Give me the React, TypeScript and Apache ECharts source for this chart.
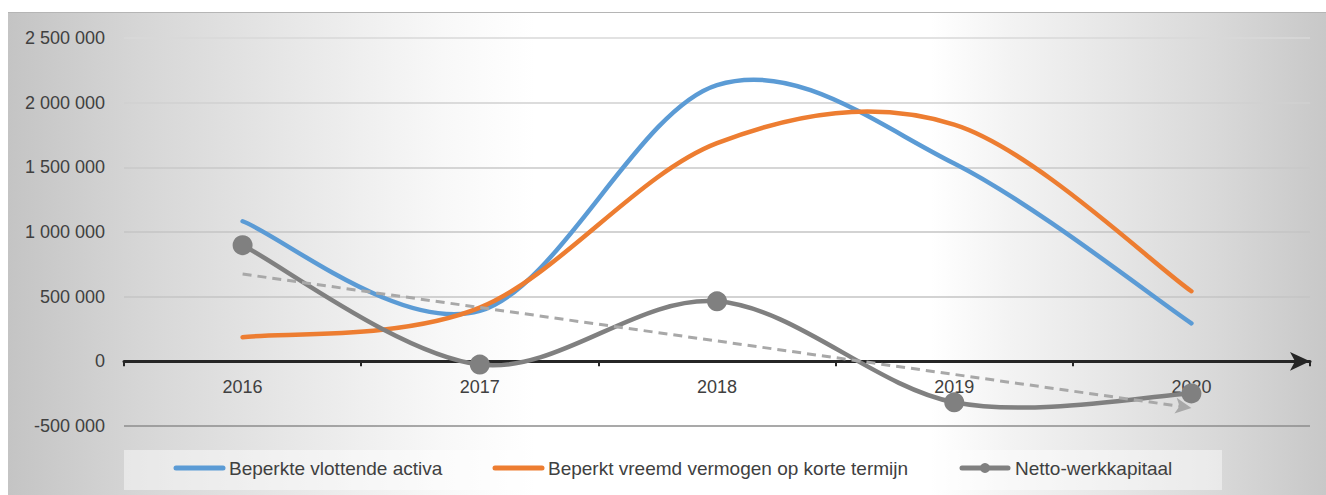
import React, { useEffect, useRef } from 'react';
import * as echarts from 'echarts';

const categories = ['2016', '2017', '2018', '2019', '2020'];
const vlottendeActiva = [1083000, 390000, 2136000, 1530000, 294000];
const vreemdVermogen = [186000, 415000, 1687000, 1830000, 542000];
const nettoWerkkapitaal = [898000, -25000, 464000, -317000, -248000];
// Linear trendline of Netto-werkkapitaal: value at 2016 and at 2020
const trendEnds = [675000, -360000];
const seriesNames = [
  'Beperkte vlottende activa',
  'Beperkt vreemd vermogen op korte termijn',
  'Netto-werkkapitaal',
];
const seriesColors = ['#5b9bd5', '#ed7d31', '#808080'];

const FONT = "'Liberation Sans', Arial, sans-serif";
const TEXT = '#404040';

const fmt = (v: number) => String(v).replace(/\B(?=(\d{3})+(?!\d))/g, ' ');

// Smooth curve through the points (Catmull-Rom, like the spreadsheet's smoothed line)
function smoothPath(pts: number[][]) {
  const n = pts.length;
  let d = `M${pts[0][0]},${pts[0][1]}`;
  for (let i = 0; i < n - 1; i++) {
    const p0 = pts[Math.max(0, i - 1)];
    const p1 = pts[i];
    const p2 = pts[i + 1];
    const p3 = pts[Math.min(n - 1, i + 2)];
    const c1x = p1[0] + (p2[0] - p0[0]) / 6;
    const c1y = p1[1] + (p2[1] - p0[1]) / 6;
    const c2x = p2[0] - (p3[0] - p1[0]) / 6;
    const c2y = p2[1] - (p3[1] - p1[1]) / 6;
    d += ` C${c1x},${c1y} ${c2x},${c2y} ${p2[0]},${p2[1]}`;
  }
  return d;
}

function curveSeries(name: string, values: number[], color: string, z: number) {
  return {
    name,
    type: 'custom',
    data: values.map((v, i) => [i, v]),
    encode: { x: 0, y: 1 },
    z,
    silent: true,
    renderItem: (params: any, api: any) => {
      if (params.dataIndex !== 0) return null;
      const pts = values.map((v, i) => api.coord([i, v]));
      return {
        type: 'path',
        shape: { pathData: smoothPath(pts) },
        style: { fill: 'none', stroke: color, lineWidth: 4.5, lineCap: 'round', lineJoin: 'round' },
      };
    },
  };
}

export default function App() {
  const ref = useRef<HTMLDivElement>(null);
  useEffect(() => {
    document.body.style.margin = '0';
    const chart = echarts.init(ref.current!, null, { renderer: 'svg' });
    // legend geometry (container coordinates)
    const legY = 455;
    const legendItems = [
      { x: 168, w: 47, tx: 221 },
      { x: 487, w: 47, tx: 540 },
      { x: 954, w: 46, tx: 1007 },
    ];
    const legendGraphics: any[] = [
      {
        type: 'rect',
        shape: { x: 116, y: 437, width: 1098, height: 40 },
        style: { fill: 'rgba(255,255,255,0.45)' },
        silent: true,
      },
    ];
    legendItems.forEach((it, i) => {
      legendGraphics.push({
        type: 'line',
        shape: { x1: it.x, y1: legY, x2: it.x + it.w, y2: legY },
        style: { stroke: seriesColors[i], lineWidth: 5, lineCap: 'round' },
        silent: true,
      });
      if (i === 2) {
        legendGraphics.push({
          type: 'circle',
          shape: { cx: it.x + it.w / 2, cy: legY, r: 5 },
          style: { fill: seriesColors[i] },
          silent: true,
        });
      }
      legendGraphics.push({
        type: 'text',
        x: it.tx,
        y: legY,
        style: {
          text: seriesNames[i],
          fill: TEXT,
          font: `19px ${FONT}`,
          verticalAlign: 'middle',
          align: 'left',
        },
        silent: true,
      });
    });

    chart.setOption({
      animation: false,
      backgroundColor: 'transparent',
      grid: { left: 116, right: 16, top: 25, bottom: 69, containLabel: false },
      graphic: legendGraphics,
      xAxis: {
        type: 'category',
        data: categories,
        boundaryGap: true,
        position: 'bottom',
        offset: -64.67,
        axisLine: {
          onZero: false,
          symbol: ['none', 'arrow'],
          symbolSize: [14, 20],
          lineStyle: { color: '#262626', width: 3 },
        },
        axisTick: { show: true, length: 5, interval: 0, lineStyle: { color: '#262626', width: 2 } },
        axisLabel: { color: TEXT, fontSize: 18, fontFamily: FONT, margin: 17 },
        splitLine: { show: false },
      },
      yAxis: {
        type: 'value',
        min: -500000,
        max: 2500000,
        interval: 500000,
        axisLine: { show: false },
        axisTick: { show: false },
        axisLabel: { color: TEXT, fontSize: 18, fontFamily: FONT, margin: 19, formatter: fmt },
        splitLine: {
          lineStyle: {
            color: ['#8c8c8c', '#d0d0d0', '#c4c4c4', '#c4c4c4', '#c8c8c8', '#d0d0d0', '#d8d8d8'],
            width: 1.5,
          },
        },
      },
      series: [
        curveSeries(seriesNames[0], vlottendeActiva, seriesColors[0], 3),
        curveSeries(seriesNames[1], vreemdVermogen, seriesColors[1], 3),
        curveSeries(seriesNames[2], nettoWerkkapitaal, seriesColors[2], 4),
        {
          name: seriesNames[2] + ' punten',
          type: 'scatter',
          data: nettoWerkkapitaal.map((v, i) => [i, v]),
          symbol: 'circle',
          symbolSize: 20,
          itemStyle: { color: seriesColors[2], opacity: 1 },
          z: 5,
          silent: true,
          markLine: {
            silent: true,
            symbol: ['none', 'arrow'],
            symbolSize: [12, 16],
            label: { show: false },
            emphasis: { disabled: true },
            lineStyle: { type: [9, 6], color: '#a8a8a8', width: 3, opacity: 1 },
            data: [[{ coord: [0, trendEnds[0]] }, { coord: [4, trendEnds[1]] }]],
          },
        },
      ],
    });
    return () => chart.dispose();
  }, []);
  return (
    <div
      style={{
        position: 'absolute',
        left: 8,
        top: 12,
        width: 1318,
        height: 483,
        boxSizing: 'border-box',
        borderTop: '1px solid #b5b5b5',
        background:
          'linear-gradient(to right, #c4c4c4 0%, #d6d6d6 10%, #e8e8e8 22%, #f8f8f8 33%, #ffffff 40%, #ffffff 70%, #f3f3f3 76%, #e6e6e6 84%, #d8d8d8 92%, #c8c8c8 100%)',
      }}
    >
      <div ref={ref} style={{ width: '100%', height: '100%' }} />
    </div>
  );
}
